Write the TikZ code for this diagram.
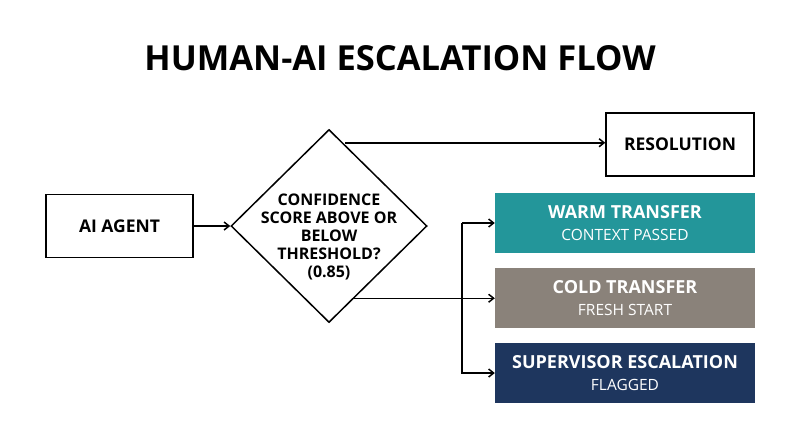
\documentclass[tikz,border=0pt]{standalone}
\usepackage{fontspec}
\setmainfont{Open Sans}
\usetikzlibrary{shapes.geometric,arrows.meta}
\definecolor{teal1}{HTML}{23969A}
\definecolor{gray1}{HTML}{8A827A}
\definecolor{navy1}{HTML}{1E365E}
\begin{document}
\begin{tikzpicture}[x=1pt,y=-1pt,
  wbox/.style={draw=black,line width=1.5pt,fill=white,font=\bfseries\fontsize{17.5}{20}\selectfont,align=center},
  cbox/.style={fill=#1,text=white,minimum width=260pt,minimum height=60pt,align=center,inner sep=0pt,font=\fontsize{15.5}{22}\selectfont},
  conn/.style={line width=1.5pt,-{Straight Barb[length=5pt,width=8pt]}}]
\useasboundingbox[fill=white] (0,0) rectangle (800,447);
\node[font=\bfseries\fontsize{34.5}{40}\selectfont] (title) at (400,58) {HUMAN-AI ESCALATION FLOW};
\node[wbox,minimum width=147pt,minimum height=63pt] (agent) at (119.5,226) {AI AGENT};
\node[wbox,diamond,minimum width=196pt,minimum height=193pt,inner sep=0pt,aspect=1] (dia) at (329,226) {};
\node[font=\bfseries\fontsize{16}{18}\selectfont,align=center] (diat) at (329,237) {CONFIDENCE\\SCORE ABOVE OR\\BELOW\\THRESHOLD?\\(0.85)};
\node[wbox,minimum width=148pt,minimum height=63pt] (res) at (680,144.5) {RESOLUTION};
\node[cbox=teal1] (warm) at (625,223) {{\bfseries\fontsize{18}{22}\selectfont WARM TRANSFER}\\CONTEXT PASSED};
\node[cbox=gray1] (cold) at (625,298) {{\bfseries\fontsize{18}{22}\selectfont COLD TRANSFER}\\FRESH START};
\node[cbox=navy1] (sup) at (625,373) {{\bfseries\fontsize{18}{22}\selectfont SUPERVISOR ESCALATION}\\FLAGGED};
\coordinate (jt) at (462,223);
\coordinate (jb) at (462,373);
\draw[conn] (agent.east) -- (dia.west);
\draw[conn] (dia.north) ++(16,14) coordinate (p1) -- (res.west |- p1);
\draw[conn] (dia.south) ++(23,-25) coordinate (p2) -- (cold.west |- p2);
\draw[conn] (jt) -- (warm.west);
\draw[conn] (jt) -- (jb) -- (sup.west);
\end{tikzpicture}
\end{document}
